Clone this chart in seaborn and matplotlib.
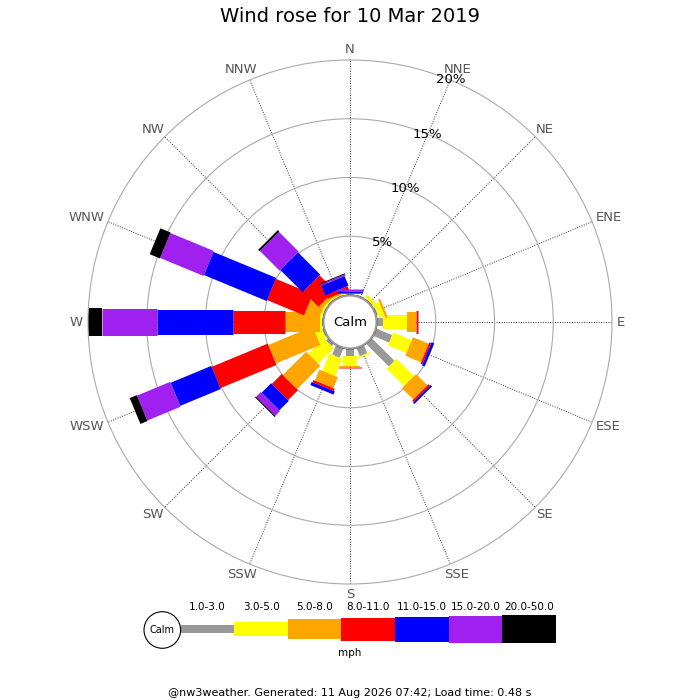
import numpy as np
import pandas as pd
import matplotlib
matplotlib.use("Agg")
import matplotlib.pyplot as plt
from matplotlib.patches import Circle
from matplotlib.textpath import TextPath
from matplotlib.font_manager import FontProperties
import seaborn as sns

directions = ['N', 'NNE', 'NE', 'ENE', 'E', 'ESE', 'SE', 'SSE',
              'S', 'SSW', 'SW', 'WSW', 'W', 'WNW', 'NW', 'NNW']
bands = ['1.0-3.0', '3.0-5.0', '5.0-8.0', '8.0-11.0', '11.0-15.0', '15.0-20.0', '20.0-50.0']

# % of the day per direction, one list per speed band (mph)
b_1_3 = [0.05, 0.08, 0.10, 0.13, 0.51, 1.45, 2.72, 0.71, 0.60, 0.85, 0.26, 0.13, 0.08, 0.08, 0.08, 0.04]
b_3_5 = [0.05, 0.00, 0.30, 0.51, 2.02, 1.70, 2.09, 0.14, 0.85, 1.59, 1.87, 0.64, 0.17, 0.18, 0.13, 0.09]
b_5_8 = [0.05, 0.00, 0.00, 0.19, 0.79, 1.45, 1.36, 0.00, 0.06, 1.01, 2.81, 4.11, 2.98, 1.27, 0.30, 0.13]
b_8_11 = [0.05, 0.00, 0.00, 0.00, 0.14, 0.17, 0.17, 0.00, 0.14, 0.21, 1.19, 5.16, 4.43, 3.41, 1.83, 0.34]
b_11_15 = [0.10, 0.00, 0.00, 0.00, 0.00, 0.25, 0.17, 0.00, 0.00, 0.29, 1.15, 3.75, 6.47, 5.78, 2.68, 0.89]
b_15_20 = [0.20, 0.00, 0.00, 0.00, 0.00, 0.00, 0.00, 0.00, 0.00, 0.00, 0.57, 3.06, 4.67, 4.00, 2.38, 0.13]
b_20_50 = [0.00, 0.00, 0.00, 0.00, 0.00, 0.00, 0.00, 0.00, 0.00, 0.00, 0.10, 0.65, 1.20, 0.94, 0.17, 0.08]

ring_pcts = [5, 10, 15, 20]
title = 'Wind rose for 10 Mar 2019'
footer = '@nw3weather. Generated: 11 Aug 2026 07:42; Load time: 0.48 s'

band_colors = ['#999999', '#ffff00', '#ffa500', '#ff0000', '#0000ff', '#a020f0', '#000000']
band_px = [8, 14, 20, 23, 25, 27, 28]   # bar thickness in pixels

sns.set_style('white')
plt.rcParams['font.family'] = ['DejaVu Sans']
plt.rcParams['text.color'] = 'black'

DPI = 100
PT = 72 / DPI
R_MAX = 20.0
R_ORIGIN = 2.3   # leaves room for the calm circle

band_values = [b_1_3, b_3_5, b_5_8, b_8_11, b_11_15, b_15_20, b_20_50]
rows = []
for i, d in enumerate(directions):
    theta = np.deg2rad(i * 360 / len(directions))
    base = 0.0
    for band, vals in zip(bands, band_values):
        v = vals[i]
        if v > 0:
            rows.append({'theta': theta, 'pct': base, 'band': band, 'seg': f'{d} {band}'})
            rows.append({'theta': theta, 'pct': base + v, 'band': band, 'seg': f'{d} {band}'})
        base += v
df = pd.DataFrame(rows)

fig = plt.figure(figsize=(7, 7), dpi=DPI)
ax = fig.add_axes([0.1257, 0.1657, 0.7486, 0.7486], projection='polar')
ax.set_theta_zero_location('N')
ax.set_theta_direction(-1)

sns.lineplot(data=df, x='theta', y='pct', hue='band', size='band',
             hue_order=bands, size_order=bands,
             palette=dict(zip(bands, band_colors)),
             sizes=dict(zip(bands, [p * PT for p in band_px])),
             units='seg', estimator=None, sort=False, legend=False,
             solid_capstyle='butt', ax=ax)

ax.set_ylim(0, R_MAX)
ax.set_rorigin(-R_ORIGIN)
ax.set_xlabel('')
ax.set_ylabel('')
ax.set_xticks(np.deg2rad(np.arange(len(directions)) * 22.5))
ax.set_xticklabels([])
ax.set_yticks(ring_pcts[:-1])
ax.set_yticklabels([])
ax.tick_params(length=0)
ax.xaxis.grid(True, color='#333333', lw=0.7, ls=(0, (1, 1.5)))
ax.yaxis.grid(True, color='#aaaaaa', lw=0.8, ls='-')
ax.spines['polar'].set_color('#aaaaaa')
ax.spines['polar'].set_linewidth(0.8)

# compass labels pushed out from the rim
fp = FontProperties(family='DejaVu Sans', size=9.5)
gap = 6 * PT
for i, d in enumerate(directions):
    a = np.deg2rad(i * 22.5)
    ux, uy = np.sin(a), np.cos(a)
    w = TextPath((0, 0), d, prop=fp).get_extents().width
    h = 7.0
    ax.annotate(d, xy=(a, R_MAX), xytext=(ux * (gap + w / 2), uy * (gap + h / 2)),
                textcoords='offset points', ha='center', va='center',
                fontsize=9.5, color='#555555', annotation_clip=False)

for p in ring_pcts:
    ax.text(np.deg2rad(22.5), p, f'{p}%', ha='center', va='center', fontsize=9.5, color='black')

fig.text(0.5, 1 - 17 / 700, title, ha='center', va='center', fontsize=14, color='black')

# overlay in pixel units for calm circle and legend
ov = fig.add_axes([0, 0, 1, 1], facecolor='none')
cx, cy = ax.transAxes.transform((0.5, 0.5))
ov.add_patch(Circle((cx, cy), 26.5, facecolor='white', edgecolor='#999999', lw=1.5, zorder=5))
ov.text(cx, cy, 'Calm', ha='center', va='center', fontsize=9.5, zorder=6)

seg_w = 53.6
xs = 180.7 + seg_w * (np.arange(len(bands)) + 0.5)
hs = np.array(band_px)
leg_y = 700 - 629
ov.bar(xs, hs, width=seg_w, bottom=leg_y - hs / 2, color=band_colors, lw=0)
for x, b in zip(xs, bands):
    ov.text(x, 700 - 606.5, b, ha='center', va='center', fontsize=7.5)
ov.add_patch(Circle((162.3, 700 - 630), 18.3, facecolor='white', edgecolor='black', lw=0.8))
ov.text(162.3, 700 - 630, 'Calm', ha='center', va='center', fontsize=7)
ov.text(350, 700 - 653.5, 'mph', ha='center', va='center', fontsize=7.5)
ov.text(350, 700 - 692.5, footer, ha='center', va='center', fontsize=8)
ov.set_xlim(0, 700)
ov.set_ylim(0, 700)
ov.axis('off')

fig.savefig('out.png', dpi=DPI)
plt.close(fig)
